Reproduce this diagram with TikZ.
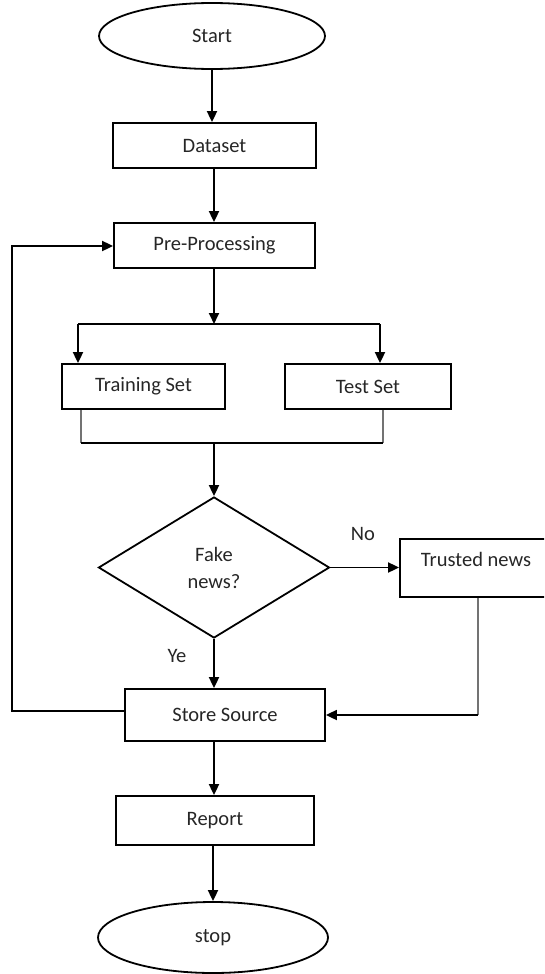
\documentclass[tikz,border=0pt]{standalone}
\usepackage{fontspec}
\setmainfont{Carlito}
\usepackage{tikz}
\usetikzlibrary{shapes.geometric,arrows.meta}

\begin{document}
\begin{tikzpicture}[x=1pt,y=-1pt,
  every node/.style={font=\fontsize{20.5}{24}\selectfont, text=black!85},
  box/.style={draw, line width=1.8pt, inner sep=0pt},
  terminal/.style={box, ellipse},
  decision/.style={box, diamond, align=center, font=\fontsize{20.5}{27}\selectfont},
  flow/.style={line width=1.8pt, -{Triangle[length=11pt,width=10pt]}},
  thin/.style={line width=1.6pt, draw=black!55}]
  \clip (0,0) rectangle (544,974);
  \node[terminal, minimum width=226, minimum height=66] (start) at (212,36) {Start};
  \node[box, minimum width=203, minimum height=45] (data) at (214.5,145.5) {Dataset};
  \node[box, minimum width=201, minimum height=45] (pre) at (214.5,245.5) {Pre-Processing};
  \node[box, minimum width=163, minimum height=45] (train) at (143.5,386.5) {Training Set};
  \node[box, minimum width=166, minimum height=45] (test) at (368,386.5) {Test Set};
  \node[decision, minimum width=231, minimum height=141] (fake) at (214,567.5) {Fake\\news?};
  \node[box, minimum width=152, minimum height=58, text height=14pt, text depth=18pt] (trust) at (476,568) {Trusted news};
  \node[box, minimum width=200, minimum height=52] (store) at (225,715) {Store Source};
  \node[box, minimum width=198, minimum height=49] (report) at (215,820.5) {Report};
  \node[terminal, minimum width=230, minimum height=71] (stop) at (213,937.5) {stop};
  \node (no) at (363,534) {No};
  \node (ye) at (177,656) {Ye};

  \coordinate (split) at (214,324);
  \coordinate (tl) at (78,324);
  \coordinate (tr) at (380,324);
  \coordinate (jl) at (81,443);
  \coordinate (jr) at (383,443);
  \coordinate (join) at (214,443);
  \coordinate (lb) at (12,711);
  \coordinate (lt) at (12,246);
  \coordinate (tb) at (478,715);

  \draw[flow] (start.south) -- (start.south |- data.north);
  \draw[flow] (data.south -| split) -- (split |- pre.north);
  \draw[flow] (pre.south -| split) -- (split);
  \draw[line width=1.8pt] (tl) -- (tr);
  \draw[flow] (tl) -- (tl |- train.north);
  \draw[flow] (tr) -- (tr |- test.north);
  \draw[thin] (jl |- train.south) -- (jl);
  \draw[thin] (jr |- test.south) -- (jr);
  \draw[line width=1.8pt] (jl) -- (jr);
  \draw[flow] (join) -- (fake.north);
  \draw[flow] (fake.east) -- (fake.east -| trust.west);
  \draw[flow] (fake.south) -- (fake.south |- store.north);
  \draw[flow] (lb -| store.west) -- (lb) -- (lt) -- (lt -| pre.west);
  \draw[thin] (tb |- trust.south) -- (tb);
  \draw[flow] (tb) -- (tb -| store.east);
  \draw[flow] (fake.south |- store.south) -- (fake.south |- report.north);
  \draw[flow] (stop.north |- report.south) -- (stop.north);
\end{tikzpicture}
\end{document}
